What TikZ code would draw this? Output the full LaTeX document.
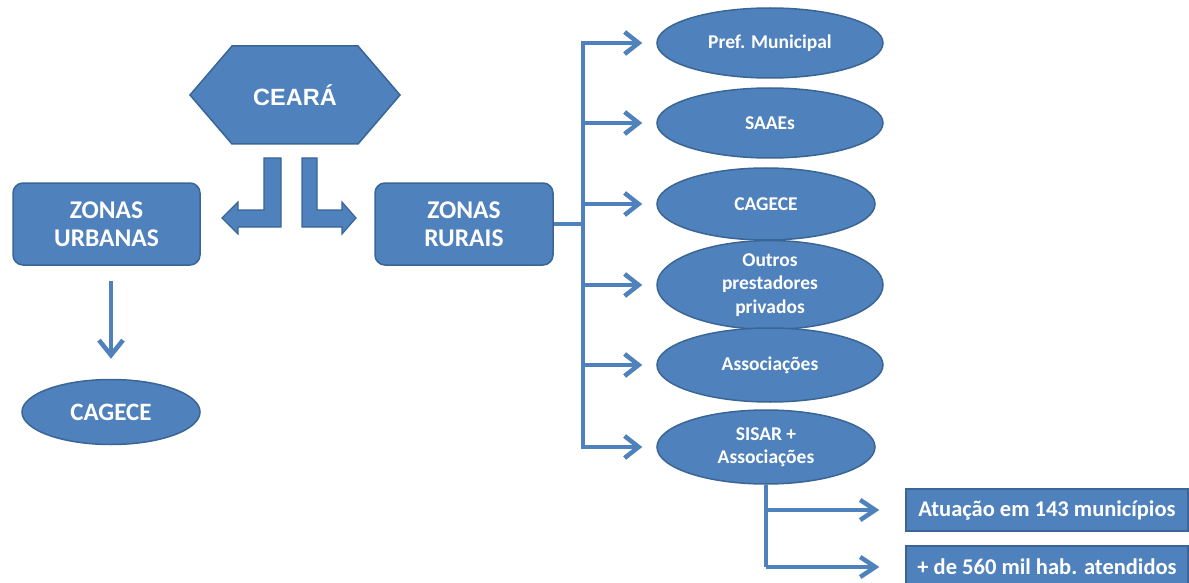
\documentclass[tikz,border=0pt]{standalone}
\usepackage{fontspec}
\setmainfont{Carlito}[BoldFont={Carlito Bold}]
\newfontfamily\arialbold{Liberation Sans}[UprightFont={* Bold}]
\usetikzlibrary{shapes.geometric,shapes.symbols,arrows.meta}
\definecolor{fillblue}{HTML}{4F81BD}
\definecolor{edgeblue}{HTML}{3A6595}
\begin{document}
\begin{tikzpicture}[x=1pt,y=-1pt,
  shapebase/.style={draw=edgeblue, line width=1.5pt, fill=fillblue, text=white, align=center, inner sep=0pt},
  rbox/.style={shapebase, rounded corners=10pt, minimum width=187pt, minimum height=82pt, font=\bfseries\fontsize{25.5}{28.5}\selectfont},
  oval/.style={shapebase, ellipse, minimum width=226pt, minimum height=70pt, font=\bfseries\fontsize{19.5}{23.5}\selectfont},
  infobox/.style={shapebase, minimum width=282pt, minimum height=42pt, font=\bfseries\fontsize{22.5}{26}\selectfont},
  link/.style={draw=fillblue, line width=4.5pt},
  arr/.style={link, -{Straight Barb[length=14pt,width=22pt]}},
  blockarrow/.style={draw=edgeblue, line width=1.2pt, fill=fillblue, line join=miter}
]
\useasboundingbox (0,0) rectangle (1189,583);
% top hexagon
\node[shapebase, signal, signal to=east and west, signal pointer angle=98.8,
      minimum width=210pt, minimum height=98pt, font=\arialbold\fontsize{23.5}{28}\selectfont] (ceara) at (295,95) {CEARÁ};
% bent block arrows
\draw[blockarrow] (281,158) -- (281,227) -- (238,227) -- (238,234) -- (222,218) -- (238,202) -- (238,210) -- (264,210) -- (264,158) -- cycle;
\draw[blockarrow] (317,158) -- (317,210) -- (342,210) -- (342,202) -- (356,218) -- (342,234) -- (342,227) -- (302,227) -- (302,158) -- cycle;
% zones
\node[rbox] (urb) at (106.5,224) {ZONAS\\URBANAS};
\node[rbox, minimum width=178pt] (rur) at (464,224) {ZONAS\\RURAIS};
\node[oval, minimum width=178pt, minimum height=65pt, font=\bfseries\fontsize{25}{28}\selectfont] (cagL) at (111,412) {CAGECE};
\coordinate (dtop) at ([yshift=-15pt]urb.south);
\coordinate (dbot) at ([yshift=20pt]cagL.north);
\draw[link, -{Straight Barb[length=15pt,width=24pt]}] (dtop -| dbot) -- (dbot);
% rural providers
\node[oval] (pref) at (770,43) {Pref. Municipal};
\node[oval] (saae) at (770,123) {SAAEs};
\node[oval, minimum width=218pt, minimum height=72pt] (cagR) at (766,204) {CAGECE};
\node[oval, minimum height=72pt] (outr) at (770,285) {Outros\\prestadores\\privados};
\node[oval, minimum height=74pt] (asso) at (770,365) {Associações};
\node[oval, minimum width=218pt, minimum height=74pt] (sisar) at (766,447) {SISAR +\\Associações};
\coordinate (tk) at (583,224);
\draw[link] (rur.east) -- (tk);
\draw[link, line cap=rect] (tk |- pref) -- (tk |- sisar);
\foreach \n in {pref,saae,cagR,outr,asso,sisar}
  \draw[arr] (tk |- \n) -- ([xshift=-14pt]\n.west -| pref.west);
% SISAR details
\node[infobox] (b1) at (1047,510) {Atuação em 143 municípios};
\node[infobox] (b2) at (1047,567) {+ de 560 mil hab. atendidos};
\coordinate (st) at (sisar.south);
\draw[link] (st) -- (st |- b2);
\draw[link, -{Straight Barb[length=15pt,width=20pt]}] (st |- b1) -- ([xshift=-26pt]b1.west);
\draw[link, -{Straight Barb[length=15pt,width=20pt]}] (st |- b2) -- ([xshift=-26pt]b2.west);
\end{tikzpicture}
\end{document}
